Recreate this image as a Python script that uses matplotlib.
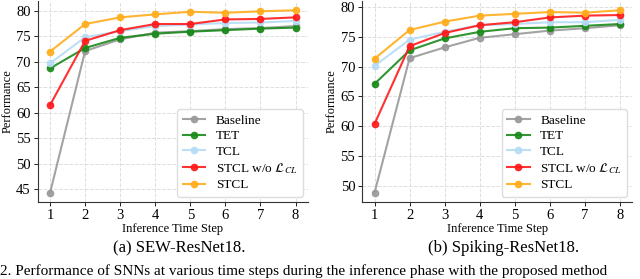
import matplotlib
matplotlib.use("Agg")
import matplotlib.pyplot as plt
from matplotlib.ticker import MultipleLocator

plt.rcParams['font.family'] = ['Liberation Serif', 'DejaVu Serif']
plt.rcParams['mathtext.fontset'] = 'stix'

steps = [1, 2, 3, 4, 5, 6, 7, 8]
labels = ["Baseline", "TET", "TCL", r"STCL w/o $\mathcal{L}_{CL}$", "STCL"]
colors = ["#999999", "#1a8a1a", "#b5dcf5", "#ff1a1a", "#ffad1a"]

# (a) SEW-ResNet18
sew_baseline = [44.3, 72.1, 74.4, 75.7, 76.0, 76.4, 76.6, 77.0]
sew_tet = [68.7, 72.7, 74.7, 75.5, 75.9, 76.2, 76.5, 76.7]
sew_tcl = [69.7, 74.8, 76.0, 77.0, 77.3, 77.6, 77.7, 78.0]
sew_stcl_wo = [61.5, 74.1, 76.2, 77.4, 77.4, 78.3, 78.4, 78.7]
sew_stcl = [72.0, 77.4, 78.7, 79.3, 79.8, 79.6, 79.9, 80.1]

# (b) Spiking-ResNet18
spk_baseline = [48.9, 71.4, 73.2, 74.8, 75.4, 76.0, 76.4, 76.9]
spk_tet = [67.1, 72.7, 74.7, 75.8, 76.4, 76.5, 76.8, 77.1]
spk_tcl = [70.1, 74.5, 75.8, 76.9, 77.1, 77.4, 77.4, 77.8]
spk_stcl_wo = [60.4, 73.4, 75.6, 76.9, 77.4, 78.2, 78.5, 78.6]
spk_stcl = [71.3, 76.1, 77.5, 78.5, 78.8, 79.1, 79.0, 79.4]

panels = [
    ("(a) SEW-ResNet18.", [sew_baseline, sew_tet, sew_tcl, sew_stcl_wo, sew_stcl]),
    ("(b) Spiking-ResNet18.", [spk_baseline, spk_tet, spk_tcl, spk_stcl_wo, spk_stcl]),
]

fig = plt.figure(figsize=(6.4, 2.79), dpi=100)
lefts = [0.059, 0.566]

for left, (caption, series) in zip(lefts, panels):
    ax = fig.add_axes([left, 0.276, 0.422, 0.72])
    for vals, lab, col in zip(series, labels, colors):
        ax.plot(steps, vals, color=col, marker='o', markersize=4.5,
                linewidth=1.5, alpha=0.9, label=lab)
    ax.set_xticks(steps)
    ax.yaxis.set_major_locator(MultipleLocator(5))
    ax.grid(True, linestyle='--', color='#dddddd', linewidth=0.7)
    ax.set_axisbelow(True)
    for s in ['top', 'right']:
        ax.spines[s].set_visible(False)
    for s in ['left', 'bottom']:
        ax.spines[s].set_color('#333333')
    ax.tick_params(labelsize=10.5, length=3, width=0.6, pad=2)
    ax.set_xlabel("Inference Time Step", fontsize=9, labelpad=1)
    ax.set_ylabel("Performance", fontsize=9, labelpad=2)
    ax.legend(loc='lower right', fontsize=9.5, handlelength=1.7,
              handletextpad=0.8, borderaxespad=0.4, labelspacing=0.25,
              framealpha=1, edgecolor='#dddddd')
    cx = left + 0.422 / 2 + 0.01
    fig.text(cx, 1 - 248 / 279, caption, ha='center', va='center', fontsize=12)

fig.text(0.0, 1 - 264 / 279,
         "2. Performance of SNNs at various time steps during the inference phase with the proposed method",
         ha='left', va='top', fontsize=11)

fig.savefig("out.png", dpi=100)
